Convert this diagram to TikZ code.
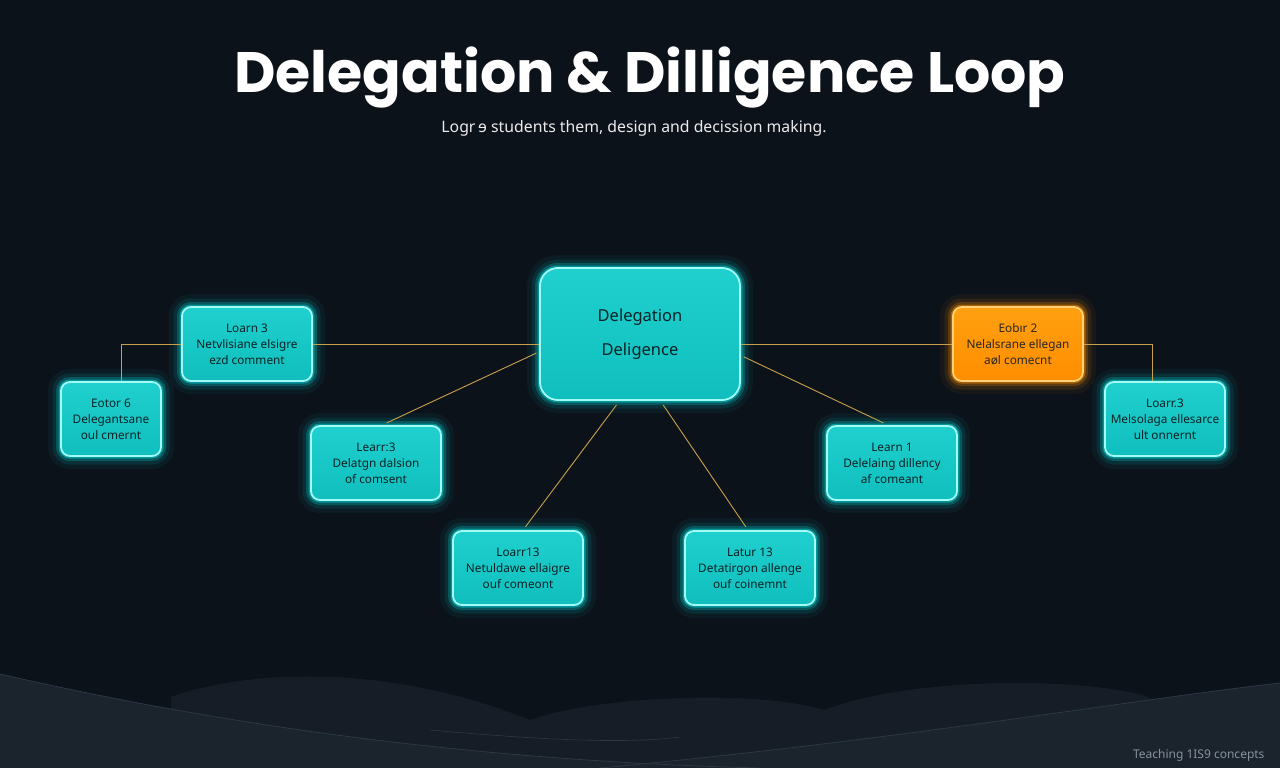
\documentclass[tikz,border=0pt]{standalone}
\usepackage{fontspec}
\setmainfont{Noto Sans}
\newfontfamily\titlefont{Poppins}
\usetikzlibrary{calc}
\definecolor{bgc}{HTML}{0C121A}
\definecolor{hillA}{HTML}{161D26}
\definecolor{hillB}{HTML}{1B232D}
\definecolor{hillEdge}{HTML}{2C3845}
\definecolor{tealTop}{HTML}{1FD0CE}
\definecolor{tealBot}{HTML}{10BFBD}
\definecolor{tealEdge}{HTML}{A4FBF6}
\definecolor{glowC}{HTML}{00E2E2}
\definecolor{oraTop}{HTML}{FFA010}
\definecolor{oraBot}{HTML}{FF8E00}
\definecolor{oraEdge}{HTML}{FFD27A}
\definecolor{glowO}{HTML}{FF9000}
\definecolor{lineC}{HTML}{C9A04A}
\definecolor{txtD}{HTML}{082226}
\definecolor{footC}{HTML}{8592A0}
\tikzset{
  glow/.style={
    preaction={draw=#1, line width=26pt, draw opacity=0.05},
    preaction={draw=#1, line width=17pt, draw opacity=0.10},
    preaction={draw=#1, line width=10pt, draw opacity=0.22},
    preaction={draw=#1, line width=5pt, draw opacity=0.45}},
  basebox/.style={rounded corners=#1, line width=1.8pt, align=center, inner sep=0pt},
  tealbox/.style={basebox=#1, glow=glowC,
    draw=tealEdge, top color=tealTop, bottom color=tealBot, text=txtD},
  cardsize/.style={minimum width=130pt, minimum height=74pt,
    font=\fontsize{11.8}{16}\selectfont},
  card/.style={tealbox=9pt, cardsize},
  smallcard/.style={card, minimum width=#1},
  oracard/.style={basebox=9pt, cardsize, glow=glowO,
    draw=oraEdge, top color=oraTop, bottom color=oraBot, text=black!85},
  link/.style={draw=lineC, line width=0.9pt},
}
\begin{document}
\begin{tikzpicture}[x=1pt,y=-1pt]
\path[fill=bgc] (0,0) rectangle (1280,768);
\useasboundingbox (0,0) rectangle (1280,768);
% hills
\fill[hillA] (171,697) .. controls (240,672) and (380,660) .. (530,720)
  .. controls (600,695) and (760,690) .. (824,710)
  .. controls (900,680) and (1060,675) .. (1143,695)
  -- (1280,768) -- (171,768) -- cycle;
\fill[hillB] (0,674) .. controls (200,720) and (450,760) .. (760,768) -- (0,768) -- cycle;
\fill[hillB] (1280,683) .. controls (1130,700) and (900,740) .. (600,768) -- (1280,768) -- cycle;
\draw[hillEdge, line width=0.8pt] (0,674) .. controls (200,720) and (450,760) .. (760,768);
\draw[hillEdge, line width=0.8pt] (1280,683) .. controls (1130,700) and (900,740) .. (600,768);
\draw[hillEdge, line width=0.6pt] (430,730) .. controls (520,738) and (620,745) .. (680,737);
% title
\node (title) at (650,78) {\titlefont\bfseries\fontsize{57}{66}\selectfont\color{white}Delegation \& Dilligence Loop};
\node (sub) at (634,128) {\fontsize{15.8}{18}\selectfont\color{white!92!black}Logr\,ɘ students them, design and decission making.};
% nodes
\node[tealbox=18pt, minimum width=200pt, minimum height=132pt,
  font=\fontsize{16.5}{34}\selectfont] (c) at (640,334) {Delegation\\Deligence};
\node[card] (l3) at (247,344) {Loarn 3\\Netvlisiane elsigre\\ezd comment};
\node[smallcard=100pt] (e6) at (111,419) {Eotor 6\\Delegantsane\\oul cmernt};
\node[card] (m3) at (376,463) {Learr:3\\Delatgn dalsion\\of comsent};
\node[card] (lo13) at (518,568) {Loarr13\\Netuldawe ellaigre\\ouf comeont};
\node[card] (la13) at (750,568) {Latur 13\\Detatirgon allenge\\ouf coinemnt};
\node[card] (l1) at (892,463) {Learn 1\\Delelaing dillency\\af comeant};
\node[oracard] (e2) at (1018,344) {Eobır 2\\Nelalsrane ellegan\\aøl comecnt};
\node[smallcard=120pt] (lo3) at (1165,419) {Loarr.3\\Melsolaga ellesarce\\ult onnernt};
% connectors
\draw[link] (l3.east) -- (l3.east -| c.west);
\draw[link] (l3.west) -| ([xshift=10pt]e6.north);
\draw[link, shorten <=3pt, shorten >=5pt] (c.190) -- ([xshift=6pt]m3.north);
\draw[link, shorten <=5pt, shorten >=4pt] (c.253) -- ([xshift=5pt]lo13.north);
\draw[link, shorten <=5pt, shorten >=4pt] (c.287) -- ([xshift=-2pt]la13.north);
\draw[link, shorten <=3pt, shorten >=5pt] (c.348) -- ([xshift=-4pt]l1.north);
\draw[link] (e2.west) -- (e2.west -| c.east);
\draw[link] (e2.east) -| ([xshift=-13pt]lo3.north);
% footer
\node[anchor=east, font=\fontsize{12}{14}\selectfont, text=footC] (foot) at (1268,755) {Teaching 1IS9 concepts};
\end{tikzpicture}
\end{document}
